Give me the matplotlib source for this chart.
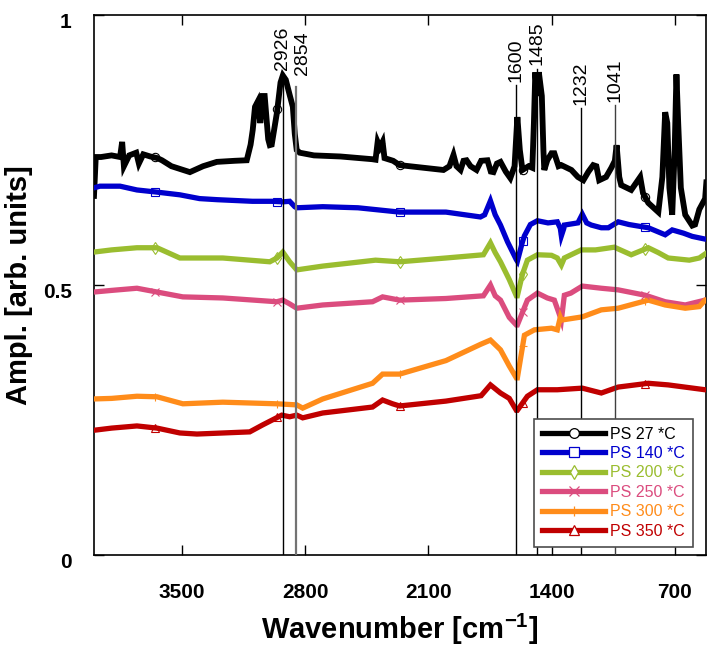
import numpy as np
import matplotlib
matplotlib.use("Agg")
import matplotlib.pyplot as plt
from matplotlib.lines import Line2D
import matplotlib.transforms as mtransforms

plt.rcParams['font.family'] = 'Liberation Sans'
plt.rcParams['mathtext.fontset'] = 'custom'
plt.rcParams['mathtext.rm'] = 'Liberation Sans:bold'
plt.rcParams['mathtext.default'] = 'rm'

# ---- data ----
wn_27 = [4000, 3990, 3960, 3900, 3852, 3840, 3830, 3800, 3760, 3745, 3720, 3680,
         3640, 3614, 3560, 3455, 3380, 3302, 3200, 3132, 3110, 3098, 3085, 3069,
         3055, 3041, 3030, 3010, 3001, 2990, 2960, 2940, 2927, 2910, 2888, 2870,
         2859, 2848, 2831, 2750, 2600, 2420, 2400, 2388, 2375, 2360, 2349, 2300,
         2263, 2014, 1980, 1957, 1940, 1917, 1900, 1883, 1860, 1826, 1800, 1764,
         1745, 1730, 1710, 1690, 1660, 1634, 1610, 1594, 1580, 1565, 1530, 1509,
         1500, 1492, 1482, 1472, 1455, 1446, 1441, 1424, 1400, 1384, 1360, 1344,
         1287, 1250, 1219, 1190, 1163, 1145, 1129, 1090, 1060, 1040, 1030, 1015,
         1004, 947, 896, 880, 850, 793, 770, 754, 742, 730, 714, 700, 690, 680,
         665, 640, 600, 584, 560, 527, 520]
amp_27 = [0.665, 0.737, 0.737, 0.740, 0.737, 0.765, 0.720, 0.740, 0.745, 0.725,
          0.742, 0.738, 0.735, 0.731, 0.720, 0.709, 0.720, 0.728, 0.730, 0.731,
          0.760, 0.787, 0.830, 0.840, 0.800, 0.850, 0.850, 0.770, 0.759, 0.760,
          0.820, 0.875, 0.888, 0.880, 0.852, 0.830, 0.780, 0.750, 0.745, 0.740,
          0.738, 0.733, 0.732, 0.765, 0.755, 0.765, 0.735, 0.730, 0.722, 0.713,
          0.720, 0.741, 0.720, 0.713, 0.730, 0.731, 0.720, 0.713, 0.730, 0.731,
          0.710, 0.709, 0.725, 0.728, 0.710, 0.698, 0.720, 0.811, 0.750, 0.713,
          0.720, 0.717, 0.800, 0.894, 0.850, 0.894, 0.850, 0.750, 0.713, 0.731,
          0.744, 0.744, 0.720, 0.722, 0.713, 0.700, 0.694, 0.710, 0.722, 0.720,
          0.694, 0.700, 0.717, 0.730, 0.759, 0.700, 0.685, 0.676, 0.700, 0.670,
          0.652, 0.635, 0.700, 0.820, 0.800, 0.680, 0.630, 0.750, 0.890, 0.800,
          0.680, 0.630, 0.610, 0.612, 0.640, 0.660, 0.690]

wn_140 = [4000, 3966, 3852, 3756, 3642, 3512, 3400, 3300, 3100, 2990, 2927, 2888,
          2859, 2848, 2700, 2500, 2263, 2000, 1804, 1780, 1747, 1720, 1690, 1650,
          1600, 1594, 1565, 1554, 1520, 1480, 1420, 1367, 1350, 1344, 1330, 1327,
          1250, 1225, 1200, 1174, 1117, 1077, 1021, 960, 850, 754, 714, 650, 600,
          527, 520]
amp_140 = [0.680, 0.683, 0.683, 0.676, 0.672, 0.667, 0.660, 0.658, 0.655, 0.655,
           0.654, 0.655, 0.645, 0.643, 0.645, 0.643, 0.635, 0.635, 0.626, 0.630,
           0.656, 0.630, 0.611, 0.580, 0.547, 0.544, 0.580, 0.591, 0.612, 0.619,
           0.615, 0.617, 0.605, 0.591, 0.605, 0.611, 0.615, 0.631, 0.615, 0.611,
           0.606, 0.606, 0.617, 0.612, 0.606, 0.593, 0.602, 0.596, 0.590, 0.585,
           0.585]

wn_200 = [4000, 3900, 3756, 3642, 3512, 3268, 3001, 2960, 2927, 2888, 2848, 2700,
          2400, 2263, 2000, 1787, 1747, 1720, 1690, 1640, 1600, 1594, 1565, 1537,
          1480, 1400, 1367, 1344, 1327, 1231, 1150, 1043, 947, 850, 793, 737, 617,
          560, 520]
amp_200 = [0.561, 0.565, 0.569, 0.569, 0.550, 0.550, 0.543, 0.550, 0.561, 0.543,
           0.528, 0.535, 0.546, 0.543, 0.550, 0.556, 0.578, 0.560, 0.543, 0.510,
           0.480, 0.480, 0.520, 0.546, 0.556, 0.555, 0.550, 0.537, 0.550, 0.565,
           0.565, 0.570, 0.556, 0.569, 0.560, 0.550, 0.546, 0.550, 0.559]

wn_250 = [4000, 3900, 3756, 3642, 3495, 3268, 2961, 2927, 2888, 2848, 2700, 2417,
          2360, 2263, 2000, 1787, 1747, 1720, 1690, 1640, 1600, 1594, 1537, 1480,
          1424, 1384, 1360, 1344, 1327, 1290, 1225, 1117, 1021, 867, 754, 640, 527,
          520]
amp_250 = [0.487, 0.490, 0.494, 0.487, 0.478, 0.476, 0.469, 0.472, 0.465, 0.457,
           0.463, 0.469, 0.478, 0.472, 0.475, 0.480, 0.500, 0.480, 0.472, 0.440,
           0.426, 0.426, 0.472, 0.485, 0.476, 0.472, 0.450, 0.435, 0.481, 0.485,
           0.498, 0.494, 0.491, 0.481, 0.469, 0.463, 0.472, 0.472]

wn_300 = [4000, 3900, 3756, 3642, 3495, 3268, 2961, 2848, 2814, 2700, 2417, 2360,
          2263, 2000, 1804, 1747, 1690, 1640, 1600, 1594, 1554, 1497, 1400, 1367,
          1350, 1344, 1225, 1117, 1021, 850, 754, 640, 560, 527, 520]
amp_300 = [0.289, 0.290, 0.294, 0.293, 0.280, 0.283, 0.280, 0.278, 0.272, 0.289,
           0.318, 0.335, 0.335, 0.360, 0.390, 0.398, 0.380, 0.350, 0.328, 0.328,
           0.407, 0.417, 0.420, 0.417, 0.440, 0.435, 0.441, 0.454, 0.457, 0.472,
           0.463, 0.457, 0.460, 0.472, 0.472]

wn_350 = [4000, 3900, 3756, 3642, 3512, 3415, 3115, 3041, 2933, 2888, 2848, 2814,
          2700, 2417, 2360, 2303, 2263, 2000, 1800, 1747, 1690, 1640, 1600, 1594,
          1537, 1480, 1367, 1225, 1117, 1021, 850, 737, 527, 520]
amp_350 = [0.231, 0.235, 0.239, 0.235, 0.226, 0.224, 0.228, 0.241, 0.259, 0.256,
           0.259, 0.254, 0.263, 0.274, 0.287, 0.280, 0.276, 0.285, 0.295, 0.315,
           0.300, 0.290, 0.268, 0.268, 0.294, 0.306, 0.306, 0.309, 0.300, 0.311,
           0.318, 0.315, 0.306, 0.306]

labels = ['PS 27 *C', 'PS 140 *C', 'PS 200 *C', 'PS 250 *C', 'PS 300 *C', 'PS 350 *C']
peaks = [2926, 2854, 1600, 1485, 1232, 1041]
peak_labels = ['2926', '2854', '1600', '1485', '1232', '1041']
marker_wn = [3655, 2958, 2261, 1564, 867]

series = [(wn_27, amp_27), (wn_140, amp_140), (wn_200, amp_200),
          (wn_250, amp_250), (wn_300, amp_300), (wn_350, amp_350)]
colors = ['#000000', '#0000CD', '#9ABD2F', '#DB4C7E', '#FF8C1A', '#C00000']
markers = ['o', 's', 'd', 'x', '+', '^']
widths = [4.2, 3.8, 3.8, 3.8, 3.8, 3.8]

fig = plt.figure(figsize=(7.07, 6.47), dpi=100)
ax = fig.add_axes([94 / 707, 1 - 555 / 647, 612 / 707, 540 / 647])

handles = []
for (wn, amp), c, m, w in zip(series, colors, markers, widths):
    wn = np.array(wn, dtype=float)
    amp = np.array(amp, dtype=float)
    ax.plot(wn, amp, color=c, lw=w, solid_joinstyle='miter', zorder=3)
    # sparse open markers sitting on the curve
    my = np.interp(marker_wn, wn[::-1], amp[::-1])
    ax.plot(marker_wn, my, ls='none', marker=m, ms=6, mfc='none', mec=c,
            mew=0.8, zorder=4)
    handles.append(Line2D([], [], color=c, lw=3.8, marker=m, ms=7, mfc='white',
                          mec=c, mew=0.9))

# peak marker lines and labels
line_top = [0.892, 0.866, 0.870, 0.900, 0.828, 0.833]
text_y = [0.898, 0.889, 0.876, 0.907, 0.834, 0.839]
text_dx = [0, 40, 0, 0, 0, 0]
line_col = ['black', '0.45', 'black', 'black', 'black', '0.25']
line_w = [1.0, 1.6, 1.0, 1.0, 1.0, 1.0]
for p, lab, top, ty, dx, lc, lw in zip(peaks, peak_labels, line_top, text_y,
                                       text_dx, line_col, line_w):
    ax.plot([p, p], [0, top], color=lc, lw=lw, zorder=5)
    ax.text(p - dx, ty, lab, rotation=90, ha='center', va='bottom',
            fontsize=14, zorder=6)

ax.set_xlim(4000, 522)
ax.set_ylim(0, 1)
ax.set_xticks([3500, 2800, 2100, 1400, 700])
ax.set_yticks([0, 0.5, 1])
ax.set_yticklabels(['0', '0.5', '1'])
ax.tick_params(direction='in', top=True, right=True, length=7, width=1,
               labelsize=15)
ax.tick_params(axis='x', pad=20)
ax.tick_params(axis='y', pad=16)
for lbl in ax.get_xticklabels() + ax.get_yticklabels():
    lbl.set_fontweight('bold')
off = mtransforms.ScaledTranslation(0, -6 / 100, fig.dpi_scale_trans)
for lbl in ax.get_yticklabels():
    lbl.set_transform(lbl.get_transform() + off)
for s in ax.spines.values():
    s.set_linewidth(1.2)

ax.set_xlabel('Wavenumber [cm$^{-1}$]', fontsize=21, fontweight='bold',
              labelpad=7)
ax.set_ylabel('Ampl. [arb. units]', fontsize=21, fontweight='bold', labelpad=7)

leg = ax.legend(handles, labels, loc='lower right',
                bbox_to_anchor=(0.979, 0.015), borderaxespad=0, fontsize=11.5,
                labelspacing=0.28, handlelength=4.0, handletextpad=0.3,
                fancybox=False, framealpha=1, borderpad=0.5)
leg.get_frame().set_edgecolor('0.3')
leg.get_frame().set_linewidth(1.2)
for t, c in zip(leg.get_texts(), colors):
    t.set_color(c)
leg.set_zorder(10)

fig.savefig('out.png', dpi=100)
